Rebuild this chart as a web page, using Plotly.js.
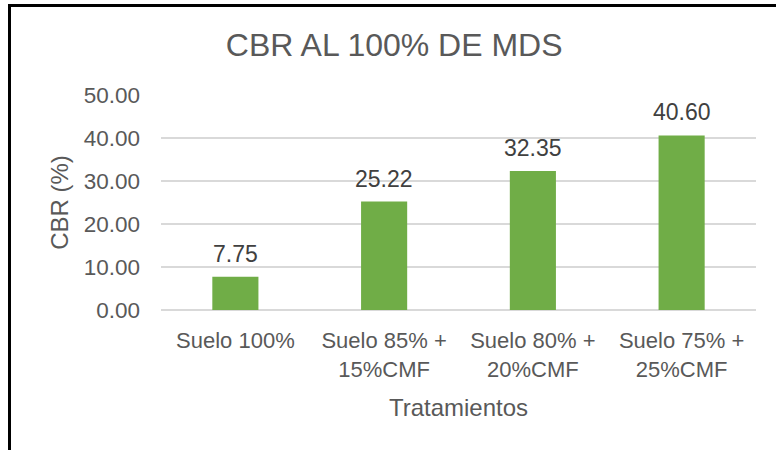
<!DOCTYPE html>
<html>
<head>
<meta charset="utf-8">
<script src="https://cdn.plot.ly/plotly-3.0.1.min.js"></script>
<style>
  html, body { margin: 0; padding: 0; background: #fff; }
  #wrap { position: relative; width: 776px; height: 450px; overflow: hidden; }
  #chart { position: absolute; left: 0; top: 0; width: 776px; height: 450px; }
  #frame { position: absolute; left: 8px; top: 4px; width: 800px; height: 500px;
           border-top: 3px solid #000; border-left: 3px solid #000; pointer-events: none; }
</style>
</head>
<body>
<div id="wrap">
  <div id="chart"></div>
  <div id="frame"></div>
</div>
<script>
const categories = ["Suelo 100%", "Suelo 85% +<br>15%CMF", "Suelo 80% +<br>20%CMF", "Suelo 75% +<br>25%CMF"];
const cbrValues = [7.75, 25.22, 32.35, 40.60];
const yTicks = [0, 10, 20, 30, 40, 50];

const textColor = "#595959";
const fontFamily = "Liberation Sans, Arial, sans-serif";

const trace = {
  type: "bar",
  x: categories,
  y: cbrValues,
  marker: { color: "#70AD47" },
  hoverinfo: "none"
};

const labelAnnotations = categories.map((c, i) => ({
  x: c,
  y: cbrValues[i],
  xref: "x",
  yref: "y",
  text: cbrValues[i].toFixed(2),
  showarrow: false,
  xanchor: "center",
  yanchor: "bottom",
  yshift: 8,
  font: { family: fontFamily, size: 23, color: "#404040" }
}));

const layout = {
  width: 776,
  height: 450,
  paper_bgcolor: "#ffffff",
  plot_bgcolor: "#ffffff",
  margin: { l: 161, r: 20, t: 95, b: 140 },
  bargap: 0.69,
  showlegend: false,
  font: { family: fontFamily, color: textColor },
  title: {
    text: "CBR AL 100% DE MDS",
    font: { family: fontFamily, size: 32, color: textColor },
    xref: "container", x: 0.508, xanchor: "center",
    yref: "container", y: 0.9, yanchor: "middle"
  },
  annotations: labelAnnotations,
  xaxis: {
    type: "category",
    tickfont: { family: fontFamily, size: 22, color: textColor },
    showgrid: false,
    showline: false,
    ticks: "",
    ticklabelstandoff: 15,
    title: { text: "Tratamientos", font: { family: fontFamily, size: 24, color: textColor }, standoff: 18 }
  },
  yaxis: {
    range: [0, 50],
    tickvals: yTicks,
    ticktext: yTicks.map(v => v.toFixed(2)),
    tickfont: { family: fontFamily, size: 22.5, color: textColor },
    showgrid: true,
    gridcolor: "#d9d9d9",
    gridwidth: 1.5,
    zeroline: true,
    zerolinecolor: "#d9d9d9",
    zerolinewidth: 1.5,
    showline: false,
    ticks: "",
    ticklabelstandoff: 20,
    title: { text: "CBR (%)", font: { family: fontFamily, size: 24, color: textColor }, standoff: 8 }
  }
};

Plotly.newPlot("chart", [trace], layout, { displayModeBar: false, staticPlot: true });
</script>
</body>
</html>
